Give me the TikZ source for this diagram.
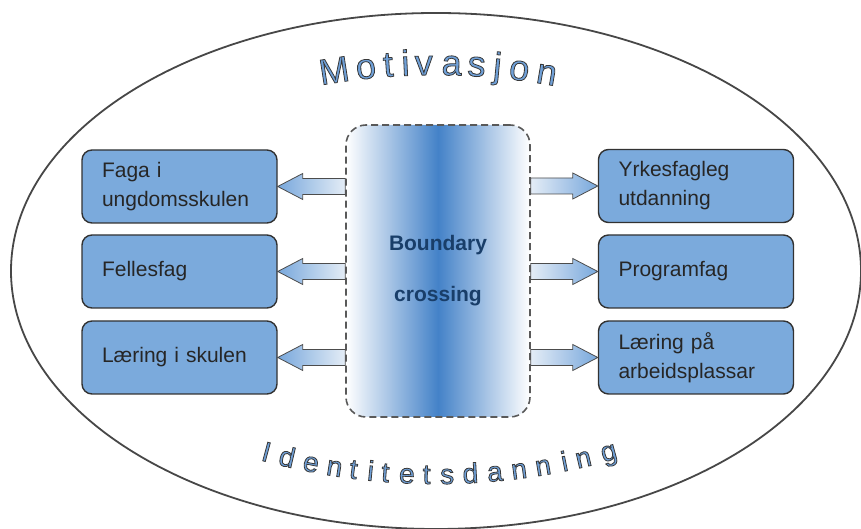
\documentclass[tikz,border=0pt]{standalone}
\usepackage{fontspec}
\setmainfont{Liberation Sans}
\usetikzlibrary{calc}

\definecolor{boxblue}{RGB}{123,170,220}
\definecolor{boxedge}{RGB}{50,50,50}
\definecolor{midblue}{RGB}{68,130,200}
\definecolor{navytext}{RGB}{25,62,105}
\definecolor{lettfill}{RGB}{111,160,216}
\definecolor{arrowlight}{RGB}{228,236,246}
\definecolor{arrowdark}{RGB}{120,168,220}

% outlined letter: fill and stroke text render mode
\newcommand\olchar[1]{{\color{lettfill}%
  \special{pdf:literal direct 2 Tr 0.8 w 0.22 0.22 0.22 RG}#1%
  \special{pdf:literal direct 0 Tr}}}

\begin{document}
\begin{tikzpicture}[x=1pt,y=1pt,
subjbox/.style={draw=boxedge,fill=boxblue,line width=1.4pt,rounded corners=10pt,
  minimum width=195pt,minimum height=73pt,text width=155pt,inner xsep=20pt,inner ysep=4pt,
  align=left,text=black!85,font=\fontsize{21}{29}\selectfont},
crossbox/.style={draw=black!65,line width=1.6pt,dash pattern=on 7pt off 4pt,rounded corners=20pt,
  minimum width=184pt,minimum height=292pt,left color=white,right color=white,middle color=midblue,
  align=center,text=navytext,font=\bfseries\fontsize{21}{51}\selectfont},
fatarrow/.style={draw=black!70,line width=0.8pt,to path={
  let \p1=(\tikztostart), \p2=(\tikztotarget), \n1={(\x2-\x1)/abs(\x2-\x1)} in
  (\x1,\y1+8) -- (\x2-25*\n1,\y1+8) -- (\x2-25*\n1,\y1+13) -- (\x2,\y2)
  -- (\x2-25*\n1,\y1-13) -- (\x2-25*\n1,\y1-8) -- (\x1,\y1-8) -- cycle}},
archtop/.style={anchor=base,inner sep=0pt,font=\fontsize{36}{36}\selectfont},
archbot/.style={anchor=base,inner sep=0pt,font=\fontsize{28}{28}\selectfont}]
\useasboundingbox (0,0) rectangle (861,529);

\draw[line width=1.8pt,draw=black!72] (436,258) ellipse [x radius=425,y radius=258];

\node[crossbox] (cross) at (438,258) {Boundary\\crossing};

\node[subjbox] (faga) at (179.5,342.5) {Faga i\\ungdomsskulen};
\node[subjbox] (felles) at (179.5,257.5) {Fellesfag};
\node[subjbox] (laering) at (179.5,171.5) {Læring i skulen};
\node[subjbox] (yrkes) at (696,343) {Yrkesfagleg\\utdanning};
\node[subjbox] (program) at (696,257.5) {Programfag};
\node[subjbox] (arbeid) at (696,171.5) {Læring på\\arbeidsplassar};

\foreach \to in {faga,felles,laering}
  \shade[fatarrow,left color=arrowdark,right color=arrowlight] (cross.west |- \to) to (\to.east);
\foreach \to in {yrkes,program,arbeid}
  \shade[fatarrow,left color=arrowlight,right color=arrowdark] (cross.east |- \to) to (\to.west);

% arched words
\foreach \ch/\x [count=\i] in {M/336,o/367,t/389,i/406,v/424,a/451.5,s/476,j/496.5,o/518,n/545}{
  \pgfmathsetmacro\rot{-asin((\x-436)/650)}
  \pgfmathsetmacro\pol{90+\rot}
  \node[archtop,rotate=\rot] (mot\i) at ([shift={(\pol:650)}]436,-196) {\olchar{\ch}};
}
\foreach \ch/\x [count=\i] in {I/264,d/285,e/309.4,n/333.2,t/352.4,i/369.8,t/384.7,e/406.5,t/426.5,
    s/447.3,d/470.9,a/495.7,n/520.2,n/544.5,i/566.3,n/585.3,g/611}{
  \pgfmathsetmacro\rot{asin((\x-436)/660)}
  \pgfmathsetmacro\pol{\rot-90}
  \node[archbot,rotate=\rot] (ident\i) at ([shift={(\pol:660)}]436,705) {\olchar{\ch}};
}
\end{tikzpicture}
\end{document}
